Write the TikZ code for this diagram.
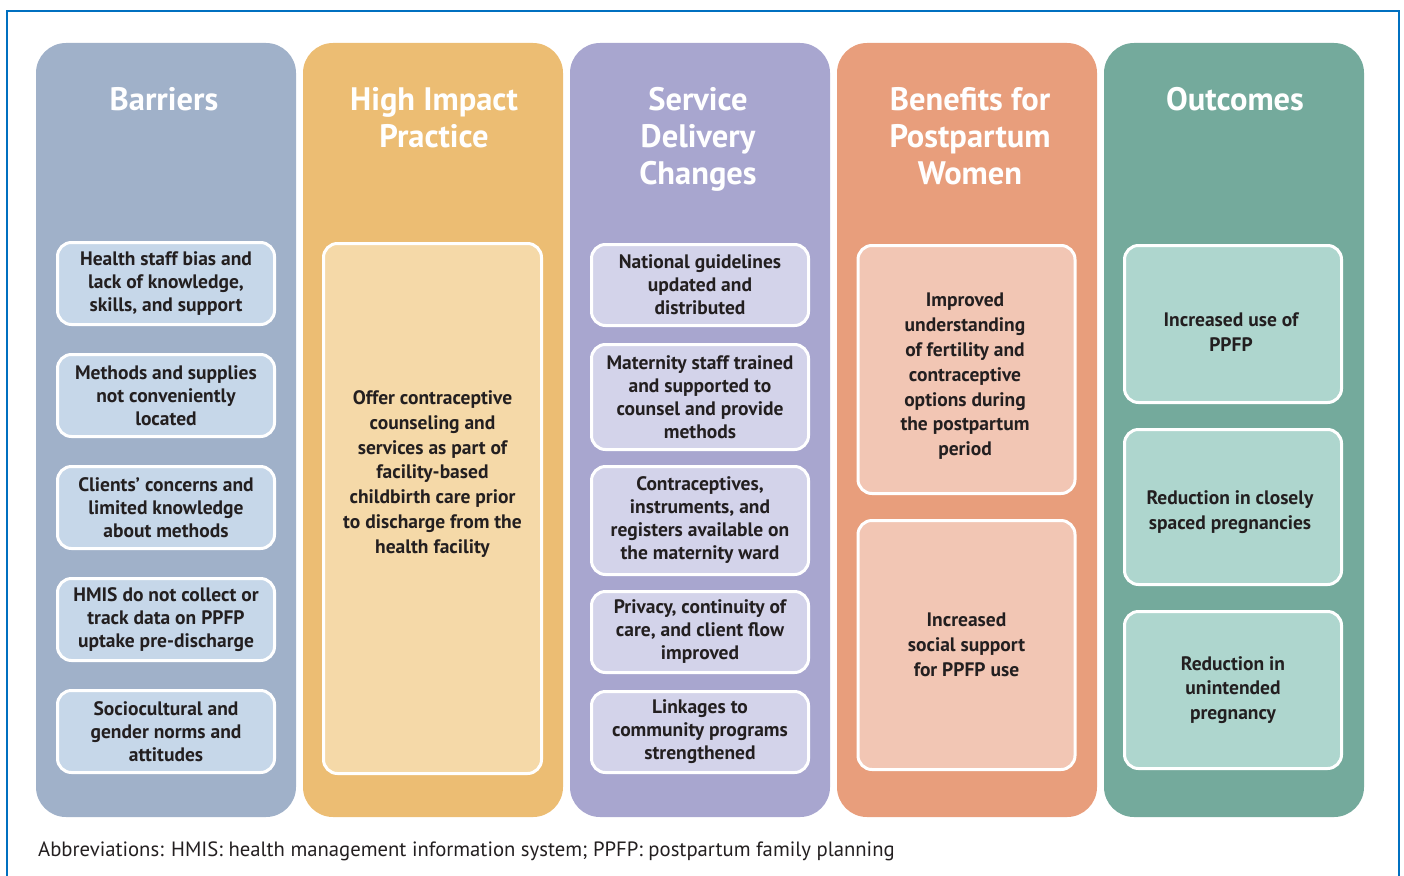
\documentclass[tikz,border=0pt]{standalone}
\usepackage{fontspec}
\setmainfont{PT Sans}
\usepackage{tikz}

\definecolor{frameBlue}{HTML}{0070C0}
\definecolor{ink}{HTML}{231F20}
\definecolor{barBg}{HTML}{A0B1C9}
\definecolor{barIn}{HTML}{C6D7E9}
\definecolor{hipBg}{HTML}{ECBD73}
\definecolor{hipIn}{HTML}{F5D9A8}
\definecolor{sdcBg}{HTML}{A8A6CF}
\definecolor{sdcIn}{HTML}{D3D3EA}
\definecolor{benBg}{HTML}{E89E7C}
\definecolor{benIn}{HTML}{F2C6B4}
\definecolor{outBg}{HTML}{74AA9C}
\definecolor{outIn}{HTML}{AED6CE}

\begin{document}
\begin{tikzpicture}[x=1pt,y=-1pt,
		column/.style={fill=#1, rounded corners=30pt, minimum width=260pt,
			minimum height=774pt, inner sep=0pt},
		head/.style={anchor=north, align=center, text=white, inner sep=0pt,
			font=\fontsize{32.5}{37}\selectfont\bfseries},
		item/.style={fill=#1, draw=white, line width=3pt, rounded corners=14pt,
			minimum width=217pt, align=center, inner sep=0pt, text=ink,
			font=\fontsize{19.5}{23}\selectfont\bfseries},
		tall/.style={font=\fontsize{19.5}{24.8}\selectfont\bfseries},
		words/.style={tall, align=center, text=ink, inner sep=0pt}]
		
		\useasboundingbox (0,0) rectangle (1404,875);
		\draw[frameBlue, line width=2.5pt] (7,890) -- (7,11) -- (1399,11) -- (1399,890);
		
		% columns
		\node[column=barBg] (Barriers) at (166,430) {};
		\node[column=hipBg] (Practice) at (433,430) {};
		\node[column=sdcBg] (Changes) at (700,430) {};
		\node[column=benBg] (Benefits) at (967,430) {};
		\node[column=outBg] (Outcomes) at (1234,430) {};
		
		\node[head] (BarriersHead) at (164,87) {Barriers};
		\node[head] (PracticeHead) at (434,87) {High Impact\\Practice};
		\node[head] (ChangesHead) at (698,87) {Service\\Delivery\\Changes};
		\node[head] (BenefitsHead) at (970,87) {Benefits for\\Postpartum\\Women};
		\node[head] (OutcomesHead) at (1235,87) {Outcomes};
		
		% barriers
		\node[item=barIn, minimum height=82pt] (bar1) at (166,283.5)
			{Health staff bias and\\lack of knowledge,\\skills, and support};
		\node[item=barIn, minimum height=82pt] (bar2) at (166,395.5)
			{Methods and supplies\\not conveniently\\located};
		\node[item=barIn, minimum height=82pt] (bar3) at (166,507.5)
			{Clients’ concerns and\\limited knowledge\\about methods};
		\node[item=barIn, minimum height=82pt] (bar4) at (166,619.5)
			{HMIS do not collect or\\track data on PPFP\\uptake pre-discharge};
		\node[item=barIn, minimum height=82pt] (bar5) at (166,731.5)
			{Sociocultural and\\gender norms and\\attitudes};
		
		% practice
		\node[item=hipIn, minimum width=218pt, minimum height=530pt] (hip) at (432.5,508.5) {};
		\node[words] (hipText) at (432.5,474)
			{Offer contraceptive\\counseling and\\services as part of\\facility-based\\childbirth care prior\\to discharge from the\\health facility};
		
		% service delivery
		\node[item=sdcIn, minimum height=81pt] (sdc1) at (700,285)
			{National guidelines\\updated and\\distributed};
		\node[item=sdcIn, minimum height=105pt] (sdc2) at (700,397)
			{Maternity staff trained\\and supported to\\counsel and provide\\methods};
		\node[item=sdcIn, minimum height=108pt] (sdc3) at (700,520.5)
			{Contraceptives,\\instruments, and\\registers available on\\the maternity ward};
		\node[item=sdcIn, minimum height=81pt] (sdc4) at (700,632)
			{Privacy, continuity of\\care, and client flow\\improved};
		\node[item=sdcIn, minimum height=81pt] (sdc5) at (700,732)
			{Linkages to\\community programs\\strengthened};
		
		% benefits
		\node[item=benIn, minimum height=248pt] (ben1) at (966.5,369.5) {};
		\node[words] (ben1Text) at (965,376.5)
			{Improved\\understanding\\of fertility and\\contraceptive\\options during\\the postpartum\\period};
		\node[item=benIn, tall, minimum height=249pt] (ben2) at (966.5,645)
			{Increased\\social support\\for PPFP use};
		
		% outcomes
		\node[item=outIn, minimum height=157pt] (out1) at (1233,324) {};
		\node[words] (out1Text) at (1231,332)
			{Increased use of\\PPFP};
		\node[item=outIn, minimum height=155pt] (out2) at (1233,507) {};
		\node[words] (out2Text) at (1230,512)
			{Reduction in closely\\spaced pregnancies};
		\node[item=outIn, tall, minimum height=157pt] (out3) at (1233,690)
			{Reduction in\\unintended\\pregnancy};
		
		\node[anchor=base west, inner sep=0pt, text=ink, font=\fontsize{20.7}{23}\selectfont] (abbrev) at (38,856)
			{Abbreviations: HMIS: health management information system; PPFP: postpartum family planning};
		
	\end{tikzpicture}
\end{document}
